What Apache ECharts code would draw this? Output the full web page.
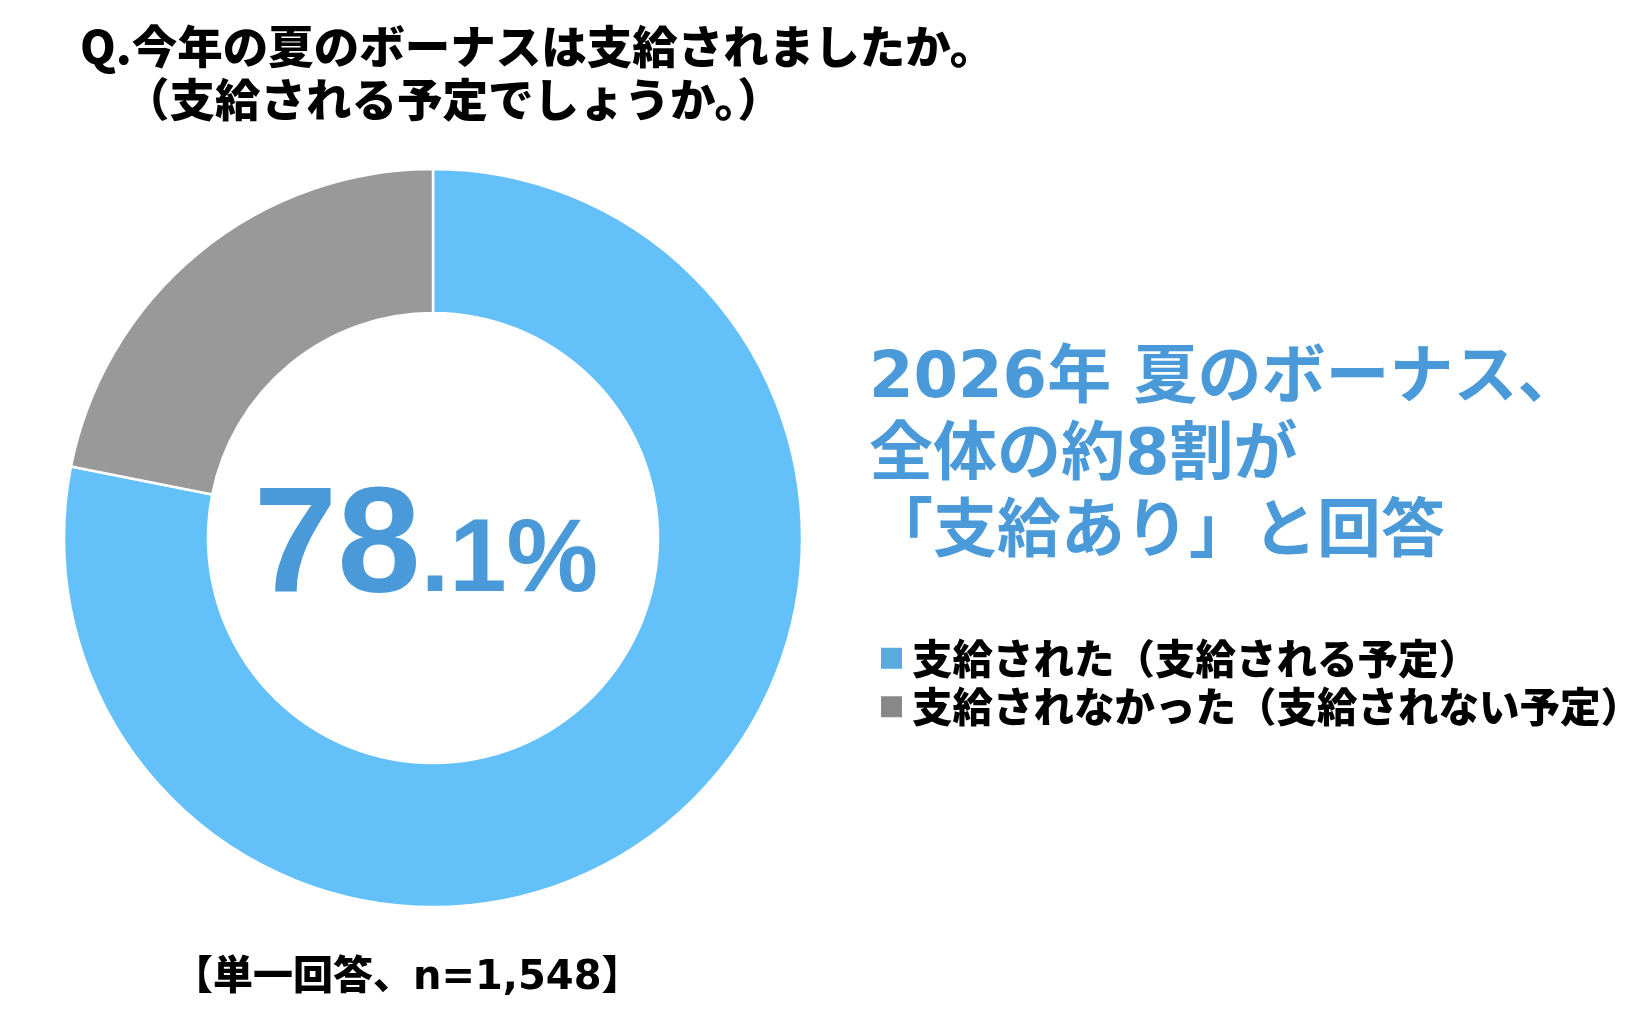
<!DOCTYPE html>
<html>
<head>
<meta charset="utf-8">
<script src="https://cdn.jsdelivr.net/npm/echarts@6/dist/echarts.min.js"></script>
<style>
  html, body { margin: 0; padding: 0; background: #ffffff; }
  #chart { width: 1642px; height: 1016px; }
</style>
</head>
<body>
<div id="chart"></div>
<script>
// ---- data ----
const categories = ['支給された（支給される予定）', '支給されなかった（支給されない予定）'];
const values = [78.1, 21.9];
const sliceColors = ['#63C0F8', '#999999'];
const legendColors = ['#5AAADC', '#888888'];
const questionLine1 = 'Q.今年の夏のボーナスは支給されましたか。';
const questionLine2 = '（支給される予定でしょうか。）';
const headline = '2026年 夏のボーナス、\n全体の約8割が\n「支給あり」と回答';
const footnote = '【単一回答、n=1,548】';

const chart = echarts.init(document.getElementById('chart'), null, { renderer: 'canvas' });

const cjk = "'Noto Sans CJK JP', sans-serif";
const mixed = "'DejaVu Sans', 'Noto Sans CJK JP', sans-serif";
const num = "'Liberation Sans', Arial, sans-serif";

function centerLabel(p) {
  const s = String(p.value);
  const parts = s.split('.');
  return '{a|' + parts[0] + '}{b|' + (parts.length > 1 ? '.' + parts[1] : '') + '%}';
}

const option = {
  backgroundColor: '#ffffff',
  animation: false,
  title: [
    {
      text: questionLine1, left: 80, top: 24.5, padding: 0,
      textStyle: { fontFamily: cjk, fontWeight: 900, fontSize: 45.5, lineHeight: 45, color: '#000000' }
    },
    {
      text: questionLine2, left: 124, top: 77.5, padding: 0,
      textStyle: { fontFamily: cjk, fontWeight: 900, fontSize: 45.5, lineHeight: 45, color: '#000000' }
    },
    {
      text: headline, left: 869, top: 342, padding: 0,
      textStyle: { fontFamily: mixed, fontWeight: 'bold', fontSize: 64, lineHeight: 77, color: '#4A9ADA' }
    },
    {
      text: footnote, left: 173, top: 959, padding: 0,
      textStyle: { fontFamily: mixed, fontWeight: 900, fontSize: 40, lineHeight: 40, color: '#000000' }
    }
  ],
  legend: {
    orient: 'vertical',
    left: 879,
    top: 638,
    padding: 0,
    itemWidth: 23,
    itemHeight: 23,
    itemGap: 8,
    icon: 'rect',
    selectedMode: false,
    data: categories.map((c, i) => ({ name: c, itemStyle: { color: legendColors[i] } })),
    textStyle: {
      fontFamily: cjk, fontWeight: 900, fontSize: 40.5, lineHeight: 40, color: '#000000',
      padding: [0, 0, 0, 4]
    }
  },
  series: [
    {
      type: 'pie',
      center: [433, 538],
      radius: [225, 369],
      startAngle: 90,
      clockwise: true,
      silent: true,
      avoidLabelOverlap: false,
      itemStyle: { borderColor: '#ffffff', borderWidth: 2.5 },
      label: { show: false },
      labelLine: { show: false },
      emphasis: { disabled: true },
      data: categories.map((c, i) => {
        const d = { name: c, value: values[i], itemStyle: { color: sliceColors[i] } };
        if (i === 0) {
          d.label = {
            show: true,
            position: 'center',
            formatter: centerLabel,
            padding: [26, 14, 0, 0],
            rich: {
              a: { fontFamily: num, fontWeight: 'bold', fontSize: 150, lineHeight: 150, height: 150, color: '#4A9ADA', verticalAlign: 'bottom' },
              b: { fontFamily: num, fontWeight: 'bold', fontSize: 103, lineHeight: 127, height: 127, color: '#4A9ADA', verticalAlign: 'bottom' }
            }
          };
        }
        return d;
      })
    }
  ]
};

chart.setOption(option);
</script>
</body>
</html>
